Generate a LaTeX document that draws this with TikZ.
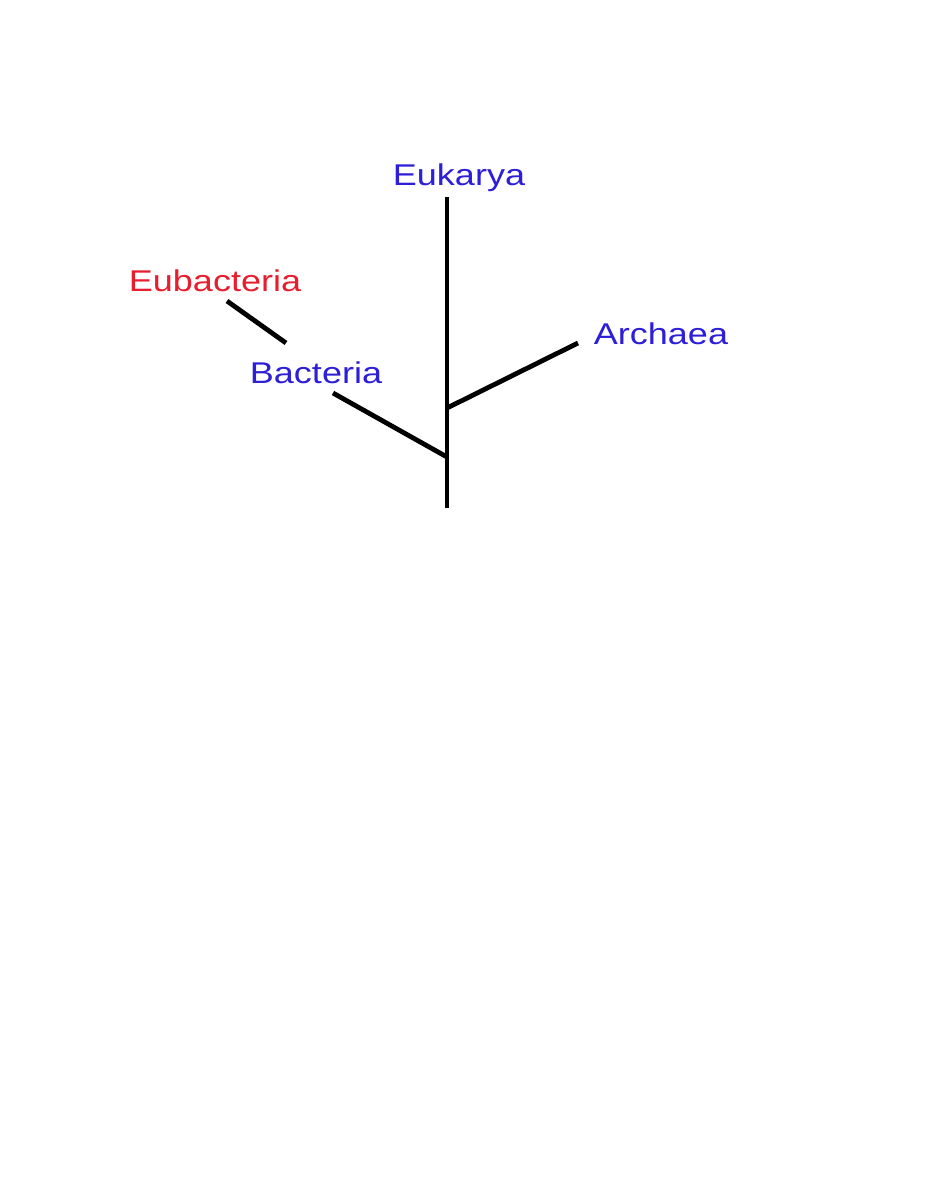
\documentclass[tikz,border=0pt]{standalone}
\usepackage{fontspec}
\setmainfont{Liberation Sans}
\definecolor{taxblue}{RGB}{45,30,215}
\definecolor{taxred}{RGB}{230,30,45}
\begin{document}
\begin{tikzpicture}[x=0.5pt,y=-0.5pt,
  branch/.style={line width=2.4pt,black},
  label/.style={inner sep=0pt,anchor=base,font=\fontsize{15pt}{18pt}\selectfont}]
\useasboundingbox (0,0) rectangle (927,1200);
\fill[white] (0,0) rectangle (927,1200);
\coordinate (root) at (447,508);
\coordinate (top) at (447,197);
\coordinate (nb) at (447,457);
\coordinate (na) at (447,408);
\coordinate (bend) at (333,393);
\coordinate (aend) at (578,343);
\coordinate (e1) at (227,301);
\coordinate (e2) at (286,343);
\node[label,text=taxblue] (euk) at (459,185) {\scalebox{1.2}[1]{Eukarya}};
\node[label,text=taxred] (eub) at (215,291) {\scalebox{1.2}[1]{Eubacteria}};
\node[label,text=taxblue] (bac) at (316,383) {\scalebox{1.2}[1]{Bacteria}};
\node[label,text=taxblue] (arc) at (661,344) {\scalebox{1.2}[1]{Archaea}};
\draw[branch] (root) -- (top);
\draw[branch] (nb) -- (bend);
\draw[branch] (na) -- (aend);
\draw[branch] (e1) -- (e2);
\end{tikzpicture}
\end{document}
